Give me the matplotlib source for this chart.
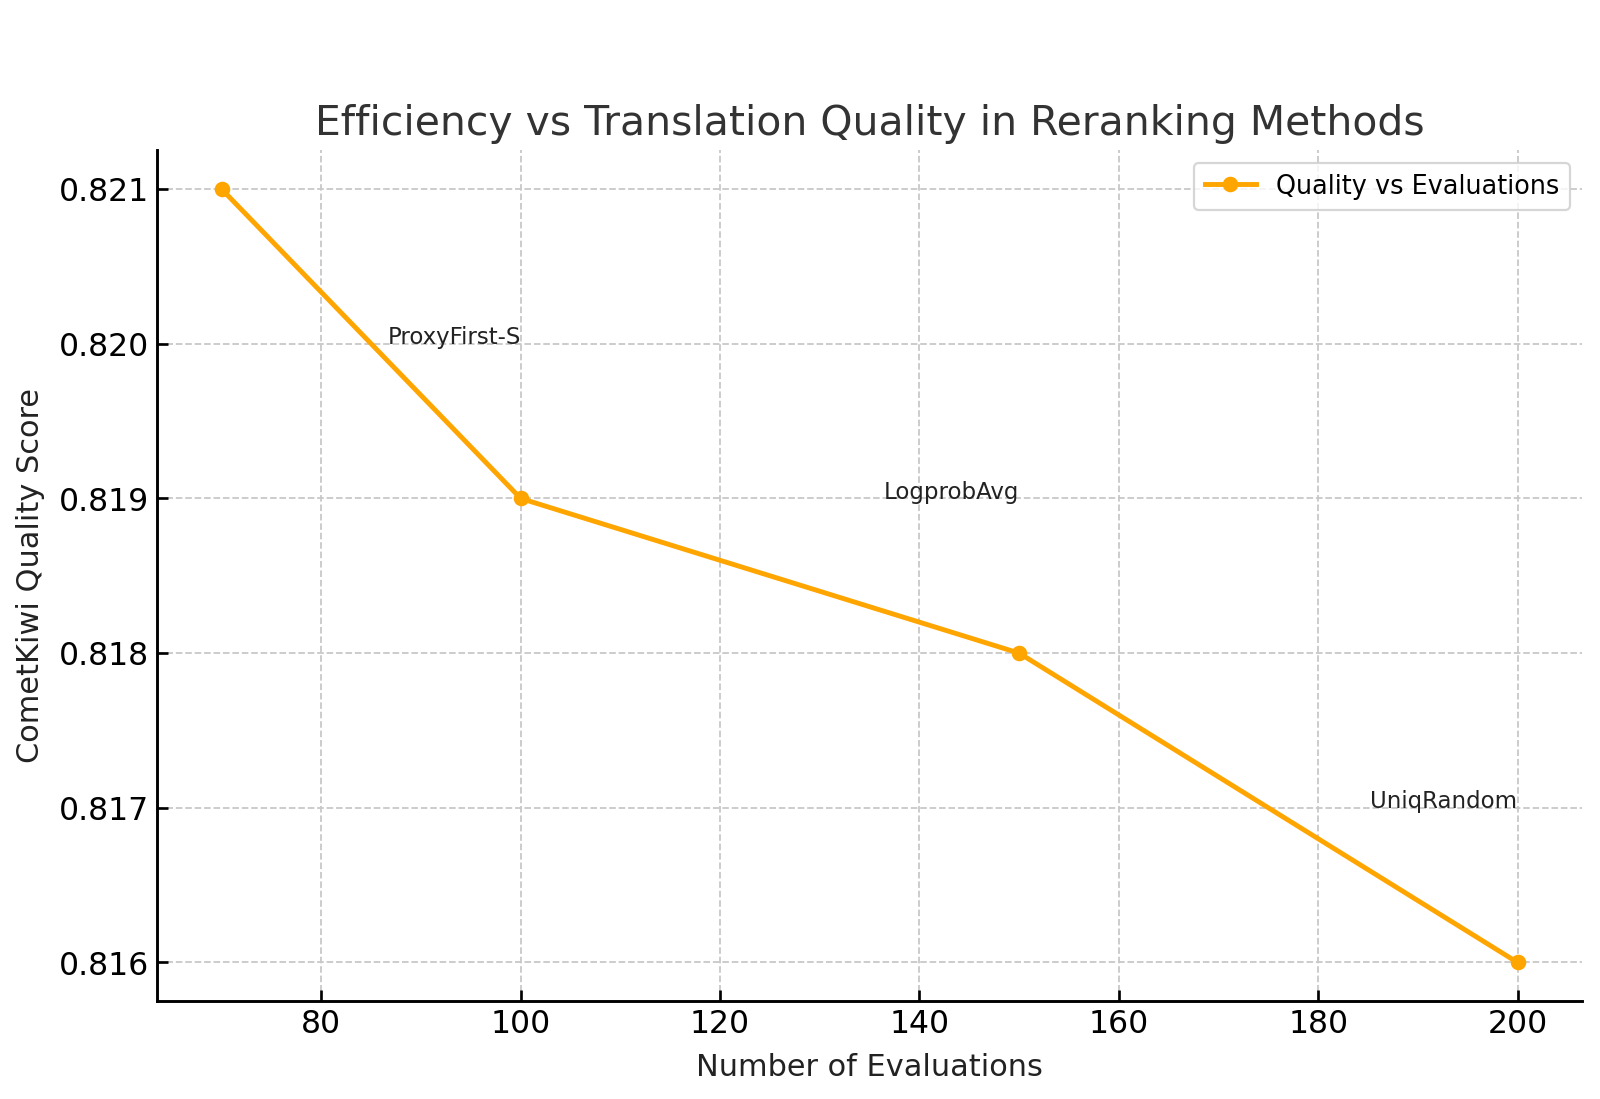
import matplotlib
matplotlib.use("Agg")
from matplotlib import pyplot as plt

# Reranking methods: evaluations vs CometKiwi quality
evaluations = [70, 100, 150, 200]
quality = [0.821, 0.819, 0.818, 0.816]
method_names = ["ProxyFirst-S", "LogprobAvg", "UniqRandom"]
label_x = [100, 150, 200]
label_y = [0.820, 0.819, 0.817]

fig = plt.figure(figsize=(10, 6.87), dpi=160)
ax = fig.add_axes([0.098, 0.089, 0.891, 0.774])

ax.plot(evaluations, quality, marker="o", color="#FFA500", linewidth=2.2,
        markersize=6, label="Quality vs Evaluations")

for name, x, y in zip(method_names, label_x, label_y):
    ax.text(x, y, name, ha="right", fontsize=10.3, color="#222222")

ax.set_title("Efficiency vs Translation Quality in Reranking Methods",
             fontsize=18.4, color="#333333", pad=7)
ax.set_xlabel("Number of Evaluations", fontsize=13.7, color="#222222", labelpad=6)
ax.set_ylabel("CometKiwi Quality Score", fontsize=13.7, color="#222222", labelpad=6)
ax.set_yticks([0.816, 0.817, 0.818, 0.819, 0.820, 0.821])
ax.set_yticklabels(["0.816", "0.817", "0.818", "0.819", "0.820", "0.821"])

ax.tick_params(direction="in", labelsize=14.2, length=5, width=1.2)
ax.grid(True, linestyle="--", color="#c8c8c8", linewidth=0.8)
ax.spines["top"].set_visible(False)
ax.spines["right"].set_visible(False)
ax.spines["left"].set_linewidth(1.3)
ax.spines["bottom"].set_linewidth(1.3)

leg = ax.legend(loc="upper right", fontsize=11.5, fancybox=True)
leg.get_frame().set_edgecolor("#cccccc")

fig.savefig("out.png", dpi=160)
